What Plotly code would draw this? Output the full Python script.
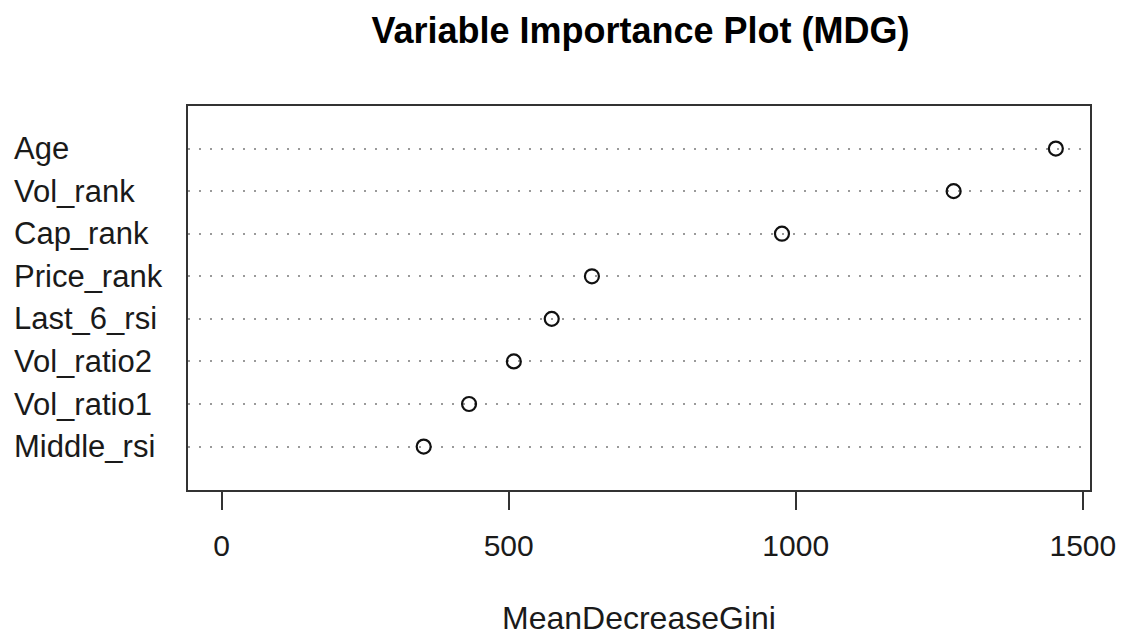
import plotly.graph_objects as go

# Data (top to bottom as shown)
variables = ["Age", "Vol_rank", "Cap_rank", "Price_rank", "Last_6_rsi",
             "Vol_ratio2", "Vol_ratio1", "Middle_rsi"]
mdg = [1453, 1275, 976, 645, 575, 509, 431, 352]
x_ticks = [0, 500, 1000, 1500]

title_text = "Variable Importance Plot (MDG)"
x_title = "MeanDecreaseGini"

FONT = "Liberation Sans, Arial, sans-serif"
TXT = "#1a1a1a"

order = list(reversed(variables))  # bottom to top

fig = go.Figure()
fig.add_trace(go.Scatter(
    x=mdg, y=variables, mode="markers",
    marker=dict(symbol="circle-open", size=14, color="#111",
                line=dict(width=2.2, color="#111")),
    showlegend=False, hoverinfo="x+y",
))

W, H = 1128, 638
ml, mr, mt, mb = 188, 35, 106, 148
plot_w = W - ml - mr
plot_h = H - mt - mb

annotations = []
for v in variables:
    annotations.append(dict(
        x=(11 - ml) / plot_w, xref="paper", y=v, yref="y",
        text=v, showarrow=False, xanchor="left", yanchor="middle",
        font=dict(family=FONT, size=31, color=TXT),
    ))
annotations.append(dict(
    x=0.5, xref="paper", y=(H - mb - 638) / plot_h, yref="paper",
    text=x_title, showarrow=False, xanchor="center", yanchor="bottom",
    font=dict(family=FONT, size=32, color=TXT),
))

fig.update_layout(
    width=W, height=H,
    margin=dict(l=ml, r=mr, t=mt, b=mb),
    paper_bgcolor="white", plot_bgcolor="white",
    title=dict(text="<b>" + title_text + "</b>", x=(ml + plot_w / 2) / W,
               xanchor="center", y=1 - 30 / H, yanchor="middle",
               font=dict(family=FONT, size=36, color="#000")),
    xaxis=dict(
        range=[-58.5, 1512.5], tickvals=x_ticks,
        ticktext=[str(t) for t in x_ticks],
        ticks="outside", ticklen=18, tickwidth=2, tickcolor="#333",
        showline=True, linecolor="#333", linewidth=2, mirror=True,
        showgrid=False, zeroline=False,
        tickfont=dict(family=FONT, size=30, color=TXT),
        ticklabelstandoff=10,
    ),
    yaxis=dict(
        type="category", categoryorder="array", categoryarray=order,
        range=[-1.02, 8.0],
        showticklabels=False, ticks="",
        showline=True, linecolor="#333", linewidth=2, mirror=True,
        showgrid=True, gridcolor="#9a9a9a", gridwidth=1.6, griddash="2px,9px",
        zeroline=False,
    ),
    annotations=annotations,
)

fig.write_html("out.html")
